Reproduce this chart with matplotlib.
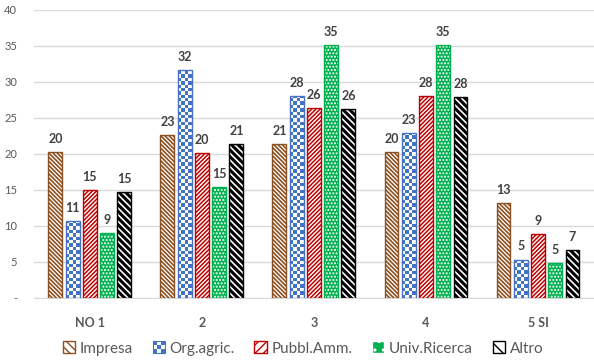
import numpy as np
import matplotlib
matplotlib.use('Agg')
import matplotlib.pyplot as plt
from matplotlib.colors import ListedColormap
from matplotlib.patches import Patch, Rectangle
from matplotlib.legend_handler import HandlerBase

categories = ['NO 1', '2', '3', '4', '5 SI']
series = ['Impresa', 'Org.agric.', 'Pubbl.Amm.', 'Univ.Ricerca', 'Altro']
impresa = [20.2, 22.6, 21.4, 20.2, 13.1]
org_agric = [10.6, 31.6, 28.0, 22.9, 5.3]
pubbl_amm = [15.0, 20.1, 26.4, 28.0, 8.8]
univ_ricerca = [9.0, 15.4, 35.1, 35.1, 4.8]
altro = [14.7, 21.3, 26.2, 27.9, 6.6]
yticks = [0, 5, 10, 15, 20, 25, 30, 35, 40]
yticklabels = ['-', '5', '10', '15', '20', '25', '30', '35', '40']

plt.rcParams['font.family'] = ['Lato', 'DejaVu Sans']

# style per series: face, hatch colour, hatch, edge
styles = [
    dict(face='white', hcol='#8C4F22', hatch='\\' * 8, edge='#8C4F22', hlw=1.2),
    dict(face='checker', hcol='#4472C4', hatch=None, edge='#4472C4', hlw=1.0),
    dict(face='white', hcol='#C00000', hatch='/' * 8, edge='#C00000', hlw=1.1),
    dict(face='#00B050', hcol='white', hatch='.....', edge='#00B050', hlw=1.0),
    dict(face='white', hcol='black', hatch='\\' * 5, edge='black', hlw=2.2),
]

checker_cmap = ListedColormap(['#4472C4', 'white'])


class CheckerHandler(HandlerBase):
    def create_artists(self, legend, orig_handle, xdescent, ydescent, width, height, fontsize, trans):
        arts = [Rectangle((-xdescent, -ydescent), width, height, facecolor='white',
                          edgecolor='none', transform=trans)]
        n = 3
        cw, ch = width / n, height / n
        for i in range(n):
            for j in range(n):
                if (i + j) % 2 == 0:
                    arts.append(Rectangle((-xdescent + i * cw, -ydescent + j * ch), cw, ch,
                                          facecolor='#4472C4', edgecolor='none', transform=trans))
        arts.append(Rectangle((-xdescent, -ydescent), width, height, facecolor='none',
                              edgecolor='#4472C4', linewidth=0.8, transform=trans))
        return arts


fig = plt.figure(figsize=(5.94, 3.63), dpi=100)
ax = fig.add_axes([0.057, 0.18, 0.943, 0.7925])

x = np.arange(len(categories))
pitch = 0.154
width = 0.124

for k, (vals, st) in enumerate(zip([impresa, org_agric, pubbl_amm, univ_ricerca, altro], styles)):
    xs = x + (k - 2) * pitch
    if st['face'] == 'checker':
        bars = ax.bar(xs, vals, width, facecolor='none', edgecolor=st['edge'], linewidth=1.0, zorder=4)
        for b, v in zip(bars, vals):
            nx = 4
            ny = max(1, int(round(v / 0.47)))
            arr = np.indices((ny, nx)).sum(axis=0) % 2
            im = ax.imshow(arr, cmap=checker_cmap, extent=[b.get_x(), b.get_x() + width, 0, ny * 0.47],
                           origin='lower', aspect='auto', interpolation='nearest', zorder=3)
            im.set_clip_path(b)
    else:
        ax.bar(xs, vals, width, color=st['face'], edgecolor='none', linewidth=0, zorder=2)
        with plt.rc_context({'hatch.linewidth': st['hlw']}):
            hb = ax.bar(xs, vals, width, facecolor='none', edgecolor=st['hcol'], hatch=st['hatch'],
                        linewidth=0, zorder=3)
            for b in hb:
                if hasattr(b, 'set_hatch_linewidth'):
                    b.set_hatch_linewidth(st['hlw'])
        ax.bar(xs, vals, width, facecolor='none', edgecolor=st['edge'], linewidth=1.0, zorder=4)
    for xi, v in zip(xs, vals):
        ax.text(xi, v + 1.0, f'{v:.0f}', ha='center', va='bottom', fontsize=9,
                fontweight='bold', color='#404040')

ax.set_xlim(-0.5, 4.5)
ax.set_ylim(0, 40)
ax.set_yticks(yticks)
ax.set_yticklabels(yticklabels, fontsize=8, color='#595959')
ax.set_xticks(x)
ax.set_xticklabels(categories, fontsize=9, fontweight='bold', color='#595959')
ax.tick_params(axis='both', length=0)
ax.tick_params(axis='y', pad=12)
ax.tick_params(axis='x', pad=14)
ax.grid(axis='y', color='#D9D9D9', linewidth=1, zorder=0)
ax.set_axisbelow(True)
for s in ['top', 'right', 'left']:
    ax.spines[s].set_visible(False)
ax.spines['bottom'].set_color('#D9D9D9')

handles = []
hmap = {}
for name, st in zip(series, styles):
    if st['face'] == 'checker':
        h = Patch(facecolor='#4472C4', label=name)
        hmap[h] = CheckerHandler()
    else:
        h = Patch(facecolor=st['face'], edgecolor=st['hcol'], hatch=st['hatch'][:max(1, len(st['hatch']) // 2)],
                  label=name)
    handles.append(h)
leg = fig.legend(handles=handles, handler_map=hmap, loc='center', bbox_to_anchor=(0.51, 0.04), ncol=5,
                 frameon=False, fontsize=11, handlelength=0.8, handleheight=0.8, handletextpad=0.3,
                 columnspacing=1.3)
for t in leg.get_texts():
    t.set_color('#595959')

fig.savefig('out.png', dpi=100)
